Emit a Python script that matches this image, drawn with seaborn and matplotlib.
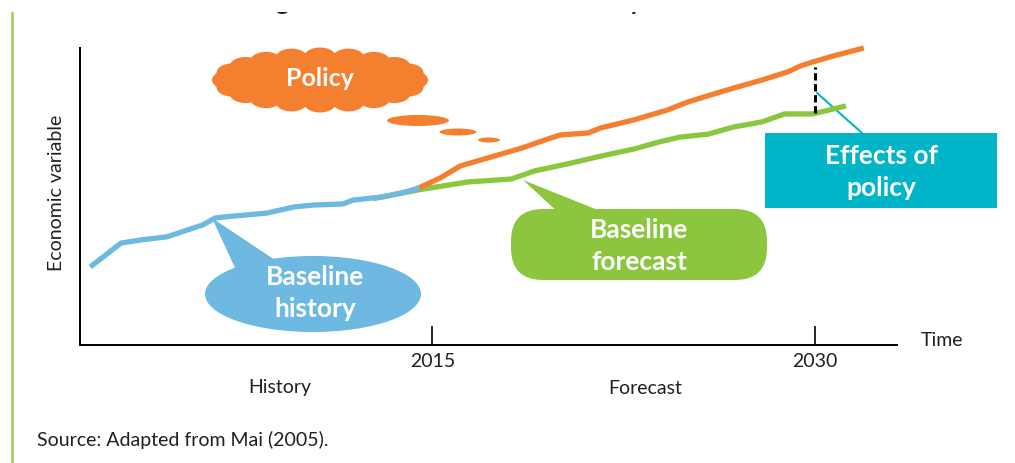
import numpy as np
import pandas as pd
import seaborn as sns
import matplotlib.pyplot as plt
from matplotlib.patches import Ellipse, Polygon, Rectangle, FancyBboxPatch

# values (x = year, y = economic variable on a 0-100 scale)
history_years = [2001.6, 2002.1, 2002.8, 2003.6, 2004.6, 2005.4, 2006.0, 2006.5, 2007.2,
                 2008.5, 2009.6, 2010.3, 2011.5, 2011.9, 2013.0, 2013.8, 2014.5]
history_values = [26.3, 29.6, 34.3, 35.4, 36.4, 38.7, 40.4, 42.8, 43.4,
                  44.4, 46.5, 47.1, 47.5, 48.8, 49.8, 51.2, 52.9]

policy_years = [2014.4, 2015.3, 2016.1, 2017.3, 2018.5, 2019.4, 2020.0, 2021.1, 2021.6, 2022.9,
                2024.2, 2025.0, 2025.9, 2026.8, 2027.9, 2028.9, 2029.4, 2029.9, 2030.7, 2031.9]
policy_values = [52.6, 56.2, 60.3, 63.3, 66.3, 69.0, 70.7, 71.4, 73.1, 75.8,
                 79.1, 81.8, 84.2, 86.5, 89.2, 91.9, 93.9, 95.3, 97.3, 100.0]

forecast_years = [2012.7, 2014.5, 2016.4, 2018.1, 2019.0, 2020.3, 2021.6, 2022.9,
                  2023.9, 2024.7, 2025.8, 2026.8, 2027.9, 2028.8, 2029.9, 2031.2]
forecast_values = [49.3, 52.3, 54.9, 55.9, 58.6, 61.0, 63.6, 66.0,
                   68.4, 70.0, 71.0, 73.4, 75.1, 77.8, 77.8, 80.5]

tick_years = [2015, 2030]
tick_labels = ["2015", "2030"]

ORANGE = "#F47F2E"
BLUE = "#6DB9E1"
GREEN = "#8CC63F"
TEAL = "#00B5C8"
TEXT = "#231F20"

sns.set_theme(style="white")
plt.rcParams["font.family"] = ["Lato", "DejaVu Sans"]

df = pd.concat([
    pd.DataFrame({"year": forecast_years, "value": forecast_values, "series": "Baseline forecast"}),
    pd.DataFrame({"year": policy_years, "value": policy_values, "series": "Policy"}),
    pd.DataFrame({"year": history_years, "value": history_values, "series": "Baseline history"}),
], ignore_index=True)

fig = plt.figure(figsize=(10.15, 4.63), dpi=100)

# overlay in pixel units for the call-outs and loose labels
ov = fig.add_axes([0, 0, 1, 1], zorder=0)
ov.set_xlim(0, 1015)
ov.set_ylim(463, 0)
ov.axis("off")

ax = fig.add_axes([80 / 1015, 118 / 463, 817 / 1015, 297 / 463], zorder=1)
ax.patch.set_visible(False)
sns.lineplot(data=df, x="year", y="value", hue="series",
             hue_order=["Baseline forecast", "Policy", "Baseline history"],
             palette={"Baseline forecast": GREEN, "Policy": ORANGE, "Baseline history": BLUE},
             linewidth=3.8, legend=False, estimator=None, ax=ax)
for ln in ax.lines:
    ln.set_clip_on(False)
    ln.set_solid_capstyle("butt")
    ln.set_solid_joinstyle("round")

# effect of policy at 2030
top = np.interp(2030, policy_years, policy_values) - 2
bot = np.interp(2030, forecast_years, forecast_values)
ax.vlines(2030, bot, top, colors="black", linestyles=(0, (2.4, 1.2)), linewidth=2.2, zorder=5)

ax.set_xlim(2001.2, 2033.2)
ax.set_ylim(0, 100)
ax.set_xticks(tick_years, tick_labels)
ax.set_yticks([])
ax.set_xlabel("")
ax.set_ylabel("")
ax.tick_params(axis="x", bottom=True, direction="in", length=14, width=1.2, color="black",
               pad=6, labelsize=14, labelcolor=TEXT)
sns.despine(ax=ax)
for s in ["left", "bottom"]:
    ax.spines[s].set_color("black")
    ax.spines[s].set_linewidth(1.4)

# left accent bar
ov.plot([12, 12], [12, 463], color="#9BCB5B", lw=1.8)

# title fragments cut off at the top
ov.text(282, 10.5, "g", fontsize=18, fontweight="bold", color=TEXT, ha="center", va="baseline")
ov.text(636, 10.5, "y", fontsize=18, fontweight="bold", color=TEXT, ha="center", va="baseline")
ov.add_patch(Rectangle((0, -5), 1015, 16.5, color="white", lw=0, zorder=3))

# policy cloud and puffs
cx, cy = 320, 80
ov.add_patch(Ellipse((cx, cy), 190, 52, color=ORANGE, lw=0))
for ang in np.arange(0, 360, 18):
    t = np.radians(ang)
    ov.add_patch(Ellipse((cx + 92 * np.cos(t), cy + 23 * np.sin(t)), 32, 19, color=ORANGE, lw=0))
ov.text(cx, cy - 2, "Policy", fontsize=18, fontweight="bold", color="white", ha="center", va="center")
ov.add_patch(Ellipse((418, 120.5), 62, 11, color=ORANGE, lw=0))
ov.add_patch(Ellipse((458, 132), 37, 7, color=ORANGE, lw=0))
ov.add_patch(Ellipse((489, 140), 22, 5, color=ORANGE, lw=0))

# baseline history bubble
ov.add_patch(Polygon([(212, 218), (236, 270), (278, 262)], closed=True, color=BLUE, lw=0))
ov.add_patch(Ellipse((313, 294), 216, 76, color=BLUE, lw=0))
ov.text(315, 293, "Baseline\nhistory", fontsize=19, fontweight="bold", color="white",
        ha="center", va="center", linespacing=1.4)

# baseline forecast bubble
ov.add_patch(Polygon([(523, 180), (560, 214), (608, 214)], closed=True, color=GREEN, lw=0))
ov.add_patch(FancyBboxPatch((511, 209), 256, 71, boxstyle="round,pad=0,rounding_size=32",
                            color=GREEN, lw=0))
ov.text(639, 246, "Baseline\nforecast", fontsize=19, fontweight="bold", color="white",
        ha="center", va="center", linespacing=1.35)

# effects of policy box
ov.plot([817, 862], [93, 133], color=TEAL, lw=1.5)
ov.add_patch(Rectangle((765, 133), 232, 75, color=TEAL, lw=0))
ov.text(881, 172, "Effects of\npolicy", fontsize=19, fontweight="bold", color="white",
        ha="center", va="center", linespacing=1.35)

# axis labels
ov.text(57, 193, "Economic variable", fontsize=14, color=TEXT, rotation=90,
        ha="center", va="center")
ov.text(921, 340, "Time", fontsize=14, color=TEXT, ha="left", va="center")
ov.text(280, 388, "History", fontsize=14, color=TEXT, ha="center", va="center")
ov.text(645, 388, "Forecast", fontsize=14, color=TEXT, ha="center", va="center")
ov.text(37, 440, "Source: Adapted from Mai (2005).", fontsize=14, color=TEXT,
        ha="left", va="center")

fig.savefig("out.png", dpi=100)
